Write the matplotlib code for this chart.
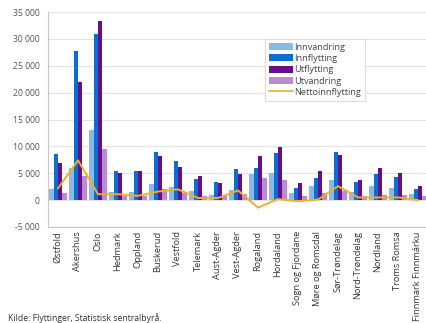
import matplotlib
matplotlib.use("Agg")
import matplotlib.pyplot as plt
import numpy as np
from matplotlib.ticker import FuncFormatter
from matplotlib.patches import Patch
from matplotlib.lines import Line2D

categories = ["Østfold", "Akershus", "Oslo", "Hedmark", "Oppland", "Buskerud", "Vestfold",
              "Telemark", "Aust-Agder", "Vest-Agder", "Rogaland", "Hordaland",
              "Sogn og Fjordane", "Møre og Romsdal", "Sør-Trøndelag", "Nord-Trøndelag",
              "Nordland", "Troms Romsa", "Finnmark Finnmárku"]
innvandring = [2100, 6000, 13000, 1500, 1600, 3000, 2400, 1700, 1000, 1900, 4900, 5000,
               1400, 2600, 3800, 1600, 2700, 2300, 1200]
innflytting = [8500, 27800, 30900, 5500, 5400, 8900, 7300, 4000, 3300, 5700, 5900, 8700,
               2200, 4200, 9000, 3400, 4800, 4300, 2100]
utflytting = [6900, 22000, 33300, 5100, 5500, 8200, 6200, 4500, 3200, 4800, 8200, 9800,
              3200, 5400, 8400, 3800, 6000, 5000, 2600]
utvandring = [1400, 4500, 9500, 800, 700, 2100, 1300, 800, 700, 1200, 4100, 3700,
              800, 1300, 1700, 700, 1000, 1000, 700]
netto = [2200, 7400, 1100, 1100, 800, 1600, 2000, 400, 400, 1800, -1400, 200,
         -200, 100, 2600, 500, 500, 500, 0]
series_names = ["Innvandring", "Innflytting", "Utflytting", "Utvandring"]
line_name = "Nettoinnflytting"
yticks = [-5000, 0, 5000, 10000, 15000, 20000, 25000, 30000, 35000]
source = "Kilde: Flyttinger, Statistisk sentralbyrå."

colors = ["#86bbe8", "#0b6fd0", "#670e8c", "#b98bcf"]
line_color = "#f0b020"
FONT = ["Open Sans", "DejaVu Sans"]
plt.rcParams["font.family"] = FONT

fig = plt.figure(figsize=(4.27, 3.23), dpi=100)
ax = fig.add_axes([48/427, 1 - 227/323, 380/427, 215/323])

x = np.arange(len(categories))
w = 0.215
data = [innvandring, innflytting, utflytting, utvandring]
for i, (vals, c) in enumerate(zip(data, colors)):
    ax.bar(x + (i - 1.5) * w, vals, width=w, color=c, zorder=2, linewidth=0)
ax.plot(x, netto, color=line_color, linewidth=1.4, zorder=3)

ax.set_xlim(-0.5, len(categories) - 0.5)
ax.set_ylim(-5000, 35000)
ax.set_yticks(yticks)
ax.yaxis.set_major_formatter(FuncFormatter(lambda v, p: f"{int(v):,}".replace(",", " ")))
ax.grid(axis="y", color="#e3e3e3", linewidth=0.8, zorder=0)
ax.set_axisbelow(True)
ax.set_xticks(x)
ax.set_xticklabels(categories, rotation=90, fontsize=6.7, color="#333333")
ax.tick_params(axis="y", labelsize=6.2, colors="#555555", length=0, pad=6)
ax.tick_params(axis="x", length=0, pad=3)
for s in ["top", "right"]:
    ax.spines[s].set_visible(False)
for s in ["left", "bottom"]:
    ax.spines[s].set_color("#c8c8c8")
    ax.spines[s].set_linewidth(0.8)

handles = [Patch(facecolor=c, edgecolor="none") for c in colors]
handles.append(Line2D([0], [0], color=line_color, linewidth=1.2))
leg = fig.legend(handles, series_names + [line_name], loc="upper left",
                 bbox_to_anchor=(265/427, 1 - 39/323), fontsize=6.6, frameon=True,
                 fancybox=False, edgecolor="#dddddd", framealpha=1,
                 handlelength=2.6, handleheight=0.8, handletextpad=0.2,
                 labelspacing=0.25, borderpad=0.4, borderaxespad=0)
leg.get_frame().set_linewidth(0.8)
for t in leg.get_texts():
    t.set_color("#444444")

fig.text(8/427, 1 - 318/323, source, fontsize=6.2, color="#333333", va="center", ha="left")

fig.savefig("out.png", dpi=100)
